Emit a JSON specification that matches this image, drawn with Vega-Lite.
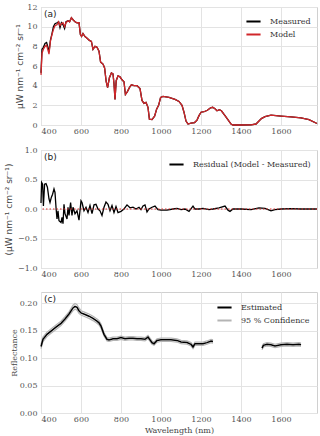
{
  "$schema": "https://vega.github.io/schema/vega-lite/v6.json",
  "padding": {"left": 3, "top": 2, "right": 2, "bottom": 0},
  "background": "white",
  "spacing": 12,
  "config": {
    "view": {"stroke": "#d0d0d0", "strokeWidth": 1},
    "axis": {
      "grid": true, "gridColor": "#e3e3e3", "gridWidth": 1, "domain": false, "ticks": false, "tickSize": 0,
      "labelFont": "DejaVu Serif", "labelFontSize": 8, "labelColor": "#555555", "labelPadding": 4,
      "titleFont": "DejaVu Serif", "titleFontSize": 8, "titleColor": "#444444", "titleFontWeight": "normal"
    },
    "axisX": {"labelPadding": 2, "format": "d"},
    "legend": {
      "labelFont": "DejaVu Serif", "labelFontSize": 8, "labelColor": "#333333",
      "symbolType": "stroke", "symbolStrokeWidth": 2, "symbolSize": 200, "title": null, "rowPadding": 0, "labelOffset": 8, "padding": 0
    }
  },
  "datasets": {
    "spec": [
      {"wl": 400, "Measured": 5.3, "Model": 5.1},
      {"wl": 405, "Measured": 7.7, "Model": 7.3},
      {"wl": 412, "Measured": 7.9, "Model": 7.7},
      {"wl": 420, "Measured": 8.3, "Model": 8.0},
      {"wl": 428, "Measured": 8.4, "Model": 8.1},
      {"wl": 435, "Measured": 7.9, "Model": 7.6},
      {"wl": 440, "Measured": 7.4, "Model": 7.2},
      {"wl": 447, "Measured": 8.6, "Model": 8.5},
      {"wl": 455, "Measured": 9.3, "Model": 9.2},
      {"wl": 462, "Measured": 10.0, "Model": 9.7},
      {"wl": 470, "Measured": 10.3, "Model": 10.1},
      {"wl": 480, "Measured": 10.4, "Model": 10.2},
      {"wl": 488, "Measured": 10.5, "Model": 10.5},
      {"wl": 495, "Measured": 9.9, "Model": 10.1},
      {"wl": 502, "Measured": 10.4, "Model": 10.3},
      {"wl": 510, "Measured": 10.2, "Model": 10.4},
      {"wl": 518, "Measured": 9.8, "Model": 10.0},
      {"wl": 525, "Measured": 10.5, "Model": 10.4},
      {"wl": 535, "Measured": 10.6, "Model": 10.6},
      {"wl": 543, "Measured": 10.5, "Model": 10.5},
      {"wl": 552, "Measured": 10.9, "Model": 10.9},
      {"wl": 560, "Measured": 10.7, "Model": 10.7},
      {"wl": 570, "Measured": 10.5, "Model": 10.5},
      {"wl": 580, "Measured": 10.4, "Model": 10.4},
      {"wl": 590, "Measured": 10.4, "Model": 10.4},
      {"wl": 597, "Measured": 9.2, "Model": 9.2},
      {"wl": 603, "Measured": 9.0, "Model": 9.0},
      {"wl": 610, "Measured": 9.3, "Model": 9.3},
      {"wl": 620, "Measured": 9.0, "Model": 9.0},
      {"wl": 632, "Measured": 8.8, "Model": 8.8},
      {"wl": 642, "Measured": 8.6, "Model": 8.6},
      {"wl": 652, "Measured": 8.5, "Model": 8.5},
      {"wl": 660, "Measured": 7.7, "Model": 7.7},
      {"wl": 670, "Measured": 8.0, "Model": 8.0},
      {"wl": 680, "Measured": 7.9, "Model": 7.9},
      {"wl": 690, "Measured": 7.5, "Model": 7.5},
      {"wl": 698, "Measured": 6.4, "Model": 6.4},
      {"wl": 710, "Measured": 6.2, "Model": 6.2},
      {"wl": 718, "Measured": 5.8, "Model": 5.8},
      {"wl": 726, "Measured": 4.4, "Model": 4.4},
      {"wl": 733, "Measured": 3.8, "Model": 3.8},
      {"wl": 742, "Measured": 4.8, "Model": 4.8},
      {"wl": 752, "Measured": 5.3, "Model": 5.3},
      {"wl": 760, "Measured": 5.2, "Model": 5.2},
      {"wl": 765, "Measured": 4.2, "Model": 4.2},
      {"wl": 770, "Measured": 2.6, "Model": 2.6},
      {"wl": 776, "Measured": 4.5, "Model": 4.5},
      {"wl": 785, "Measured": 5.0, "Model": 5.0},
      {"wl": 795, "Measured": 4.9, "Model": 4.9},
      {"wl": 805, "Measured": 4.6, "Model": 4.6},
      {"wl": 815, "Measured": 4.4, "Model": 4.4},
      {"wl": 822, "Measured": 3.1, "Model": 3.1},
      {"wl": 832, "Measured": 3.4, "Model": 3.4},
      {"wl": 842, "Measured": 3.8, "Model": 3.8},
      {"wl": 852, "Measured": 4.1, "Model": 4.1},
      {"wl": 865, "Measured": 4.0, "Model": 4.0},
      {"wl": 880, "Measured": 4.0, "Model": 4.0},
      {"wl": 895, "Measured": 3.7, "Model": 3.7},
      {"wl": 905, "Measured": 2.5, "Model": 2.5},
      {"wl": 915, "Measured": 2.2, "Model": 2.2},
      {"wl": 925, "Measured": 2.3, "Model": 2.3},
      {"wl": 935, "Measured": 1.8, "Model": 1.8},
      {"wl": 942, "Measured": 0.6, "Model": 0.6},
      {"wl": 955, "Measured": 0.55, "Model": 0.55},
      {"wl": 968, "Measured": 0.9, "Model": 0.9},
      {"wl": 978, "Measured": 1.6, "Model": 1.6},
      {"wl": 988, "Measured": 2.0, "Model": 2.0},
      {"wl": 998, "Measured": 2.8, "Model": 2.8},
      {"wl": 1010, "Measured": 2.9, "Model": 2.9},
      {"wl": 1040, "Measured": 2.8, "Model": 2.8},
      {"wl": 1070, "Measured": 2.6, "Model": 2.6},
      {"wl": 1090, "Measured": 2.4, "Model": 2.4},
      {"wl": 1105, "Measured": 2.0, "Model": 2.0},
      {"wl": 1115, "Measured": 1.3, "Model": 1.3},
      {"wl": 1125, "Measured": 0.4, "Model": 0.4},
      {"wl": 1135, "Measured": 0.1, "Model": 0.1},
      {"wl": 1150, "Measured": 0.2, "Model": 0.2},
      {"wl": 1168, "Measured": 0.25, "Model": 0.25},
      {"wl": 1180, "Measured": 0.5, "Model": 0.5},
      {"wl": 1190, "Measured": 0.95, "Model": 0.95},
      {"wl": 1200, "Measured": 1.3, "Model": 1.3},
      {"wl": 1215, "Measured": 1.35, "Model": 1.35},
      {"wl": 1232, "Measured": 1.5, "Model": 1.5},
      {"wl": 1248, "Measured": 1.75, "Model": 1.75},
      {"wl": 1258, "Measured": 1.8, "Model": 1.8},
      {"wl": 1270, "Measured": 1.65, "Model": 1.65},
      {"wl": 1280, "Measured": 1.45, "Model": 1.45},
      {"wl": 1292, "Measured": 1.55, "Model": 1.55},
      {"wl": 1302, "Measured": 1.45, "Model": 1.45},
      {"wl": 1320, "Measured": 0.95, "Model": 0.95},
      {"wl": 1338, "Measured": 0.45, "Model": 0.45},
      {"wl": 1350, "Measured": 0.1, "Model": 0.1},
      {"wl": 1360, "Measured": 0.0, "Model": 0.0},
      {"wl": 1400, "Measured": 0.0, "Model": 0.0},
      {"wl": 1450, "Measured": 0.02, "Model": 0.02},
      {"wl": 1475, "Measured": 0.1, "Model": 0.1},
      {"wl": 1490, "Measured": 0.4, "Model": 0.4},
      {"wl": 1502, "Measured": 0.65, "Model": 0.65},
      {"wl": 1520, "Measured": 0.85, "Model": 0.85},
      {"wl": 1550, "Measured": 1.0, "Model": 1.0},
      {"wl": 1575, "Measured": 0.95, "Model": 0.95},
      {"wl": 1600, "Measured": 0.9, "Model": 0.9},
      {"wl": 1650, "Measured": 0.82, "Model": 0.82},
      {"wl": 1700, "Measured": 0.72, "Model": 0.72},
      {"wl": 1740, "Measured": 0.55, "Model": 0.55},
      {"wl": 1780, "Measured": 0.15, "Model": 0.15}
    ],
    "resid": [
      {"wl": 400, "r": 0.1}, {"wl": 403, "r": 0.45}, {"wl": 408, "r": 0.42}, {"wl": 412, "r": 0.05},
      {"wl": 418, "r": 0.42}, {"wl": 425, "r": 0.43}, {"wl": 432, "r": 0.37}, {"wl": 440, "r": 0.17},
      {"wl": 445, "r": 0.11}, {"wl": 452, "r": 0.2}, {"wl": 458, "r": 0.25}, {"wl": 465, "r": 0.34},
      {"wl": 470, "r": 0.28}, {"wl": 475, "r": 0.03}, {"wl": 480, "r": -0.17}, {"wl": 485, "r": -0.03},
      {"wl": 490, "r": -0.2}, {"wl": 500, "r": -0.23}, {"wl": 505, "r": -0.14}, {"wl": 510, "r": -0.25},
      {"wl": 515, "r": 0.08}, {"wl": 520, "r": -0.08}, {"wl": 530, "r": -0.17}, {"wl": 535, "r": 0.03},
      {"wl": 540, "r": -0.11}, {"wl": 548, "r": 0.11}, {"wl": 555, "r": -0.11}, {"wl": 560, "r": 0.03},
      {"wl": 570, "r": -0.08}, {"wl": 580, "r": -0.03}, {"wl": 590, "r": -0.19}, {"wl": 600, "r": 0.14},
      {"wl": 605, "r": 0.11}, {"wl": 615, "r": -0.03}, {"wl": 625, "r": 0.03}, {"wl": 635, "r": -0.06},
      {"wl": 645, "r": 0.06}, {"wl": 655, "r": -0.08}, {"wl": 665, "r": 0.07}, {"wl": 675, "r": 0.08},
      {"wl": 685, "r": 0.0}, {"wl": 695, "r": -0.03}, {"wl": 705, "r": -0.11}, {"wl": 715, "r": 0.03},
      {"wl": 725, "r": 0.12}, {"wl": 735, "r": 0.08}, {"wl": 745, "r": -0.03}, {"wl": 755, "r": 0.06},
      {"wl": 765, "r": -0.06}, {"wl": 775, "r": 0.04}, {"wl": 785, "r": -0.06}, {"wl": 800, "r": -0.04},
      {"wl": 815, "r": 0.0}, {"wl": 830, "r": 0.07}, {"wl": 845, "r": 0.02}, {"wl": 860, "r": 0.03},
      {"wl": 875, "r": 0.0}, {"wl": 890, "r": 0.03}, {"wl": 900, "r": -0.01}, {"wl": 910, "r": 0.05},
      {"wl": 920, "r": 0.07}, {"wl": 930, "r": -0.05}, {"wl": 940, "r": 0.0}, {"wl": 955, "r": 0.03},
      {"wl": 970, "r": 0.05}, {"wl": 985, "r": -0.01}, {"wl": 1000, "r": -0.02}, {"wl": 1030, "r": -0.02},
      {"wl": 1060, "r": 0.0}, {"wl": 1080, "r": 0.01}, {"wl": 1100, "r": -0.01}, {"wl": 1120, "r": 0.0},
      {"wl": 1140, "r": -0.04}, {"wl": 1160, "r": 0.05}, {"wl": 1170, "r": 0.0}, {"wl": 1190, "r": 0.0},
      {"wl": 1210, "r": 0.01}, {"wl": 1240, "r": -0.01}, {"wl": 1260, "r": 0.0}, {"wl": 1290, "r": 0.02},
      {"wl": 1320, "r": 0.05}, {"wl": 1335, "r": -0.02}, {"wl": 1345, "r": -0.04}, {"wl": 1360, "r": 0.0},
      {"wl": 1400, "r": 0.0}, {"wl": 1450, "r": -0.01}, {"wl": 1490, "r": 0.02}, {"wl": 1520, "r": 0.01},
      {"wl": 1550, "r": -0.03}, {"wl": 1570, "r": -0.01}, {"wl": 1600, "r": 0.0}, {"wl": 1650, "r": 0.005},
      {"wl": 1700, "r": 0.0}, {"wl": 1780, "r": 0.0}
    ],
    "refl": [
      {"wl": 400, "seg": 1, "est": 0.121, "lo": 0.117, "hi": 0.125},
      {"wl": 410, "seg": 1, "est": 0.134, "lo": 0.130, "hi": 0.138},
      {"wl": 430, "seg": 1, "est": 0.143, "lo": 0.139, "hi": 0.147},
      {"wl": 450, "seg": 1, "est": 0.149, "lo": 0.145, "hi": 0.153},
      {"wl": 475, "seg": 1, "est": 0.156, "lo": 0.152, "hi": 0.160},
      {"wl": 500, "seg": 1, "est": 0.163, "lo": 0.159, "hi": 0.167},
      {"wl": 520, "seg": 1, "est": 0.171, "lo": 0.167, "hi": 0.175},
      {"wl": 540, "seg": 1, "est": 0.180, "lo": 0.176, "hi": 0.184},
      {"wl": 560, "seg": 1, "est": 0.191, "lo": 0.186, "hi": 0.196},
      {"wl": 570, "seg": 1, "est": 0.194, "lo": 0.189, "hi": 0.199},
      {"wl": 580, "seg": 1, "est": 0.192, "lo": 0.187, "hi": 0.197},
      {"wl": 590, "seg": 1, "est": 0.186, "lo": 0.181, "hi": 0.191},
      {"wl": 600, "seg": 1, "est": 0.182, "lo": 0.178, "hi": 0.186},
      {"wl": 620, "seg": 1, "est": 0.179, "lo": 0.175, "hi": 0.183},
      {"wl": 640, "seg": 1, "est": 0.176, "lo": 0.172, "hi": 0.180},
      {"wl": 660, "seg": 1, "est": 0.172, "lo": 0.168, "hi": 0.176},
      {"wl": 680, "seg": 1, "est": 0.167, "lo": 0.163, "hi": 0.171},
      {"wl": 690, "seg": 1, "est": 0.164, "lo": 0.160, "hi": 0.168},
      {"wl": 700, "seg": 1, "est": 0.158, "lo": 0.154, "hi": 0.162},
      {"wl": 715, "seg": 1, "est": 0.143, "lo": 0.140, "hi": 0.146},
      {"wl": 730, "seg": 1, "est": 0.134, "lo": 0.131, "hi": 0.137},
      {"wl": 740, "seg": 1, "est": 0.133, "lo": 0.130, "hi": 0.136},
      {"wl": 760, "seg": 1, "est": 0.135, "lo": 0.132, "hi": 0.138},
      {"wl": 780, "seg": 1, "est": 0.135, "lo": 0.132, "hi": 0.138},
      {"wl": 800, "seg": 1, "est": 0.137, "lo": 0.134, "hi": 0.140},
      {"wl": 820, "seg": 1, "est": 0.135, "lo": 0.132, "hi": 0.138},
      {"wl": 840, "seg": 1, "est": 0.136, "lo": 0.133, "hi": 0.139},
      {"wl": 860, "seg": 1, "est": 0.136, "lo": 0.133, "hi": 0.139},
      {"wl": 880, "seg": 1, "est": 0.135, "lo": 0.132, "hi": 0.138},
      {"wl": 900, "seg": 1, "est": 0.135, "lo": 0.132, "hi": 0.138},
      {"wl": 920, "seg": 1, "est": 0.134, "lo": 0.131, "hi": 0.137},
      {"wl": 935, "seg": 1, "est": 0.138, "lo": 0.135, "hi": 0.141},
      {"wl": 945, "seg": 1, "est": 0.133, "lo": 0.130, "hi": 0.136},
      {"wl": 955, "seg": 1, "est": 0.128, "lo": 0.125, "hi": 0.131},
      {"wl": 965, "seg": 1, "est": 0.126, "lo": 0.123, "hi": 0.129},
      {"wl": 980, "seg": 1, "est": 0.132, "lo": 0.129, "hi": 0.135},
      {"wl": 1000, "seg": 1, "est": 0.133, "lo": 0.130, "hi": 0.136},
      {"wl": 1050, "seg": 1, "est": 0.133, "lo": 0.130, "hi": 0.136},
      {"wl": 1080, "seg": 1, "est": 0.132, "lo": 0.129, "hi": 0.135},
      {"wl": 1100, "seg": 1, "est": 0.129, "lo": 0.126, "hi": 0.132},
      {"wl": 1130, "seg": 1, "est": 0.128, "lo": 0.125, "hi": 0.131},
      {"wl": 1150, "seg": 1, "est": 0.125, "lo": 0.122, "hi": 0.128},
      {"wl": 1160, "seg": 1, "est": 0.120, "lo": 0.117, "hi": 0.123},
      {"wl": 1170, "seg": 1, "est": 0.126, "lo": 0.123, "hi": 0.129},
      {"wl": 1190, "seg": 1, "est": 0.126, "lo": 0.123, "hi": 0.129},
      {"wl": 1210, "seg": 1, "est": 0.126, "lo": 0.123, "hi": 0.129},
      {"wl": 1230, "seg": 1, "est": 0.128, "lo": 0.125, "hi": 0.131},
      {"wl": 1250, "seg": 1, "est": 0.131, "lo": 0.128, "hi": 0.134},
      {"wl": 1260, "seg": 1, "est": 0.130, "lo": 0.127, "hi": 0.133},
      {"wl": 1505, "seg": 2, "est": 0.118, "lo": 0.115, "hi": 0.121},
      {"wl": 1512, "seg": 2, "est": 0.123, "lo": 0.120, "hi": 0.126},
      {"wl": 1530, "seg": 2, "est": 0.125, "lo": 0.122, "hi": 0.128},
      {"wl": 1550, "seg": 2, "est": 0.124, "lo": 0.121, "hi": 0.127},
      {"wl": 1570, "seg": 2, "est": 0.122, "lo": 0.119, "hi": 0.125},
      {"wl": 1600, "seg": 2, "est": 0.124, "lo": 0.121, "hi": 0.127},
      {"wl": 1630, "seg": 2, "est": 0.125, "lo": 0.122, "hi": 0.128},
      {"wl": 1660, "seg": 2, "est": 0.124, "lo": 0.121, "hi": 0.127},
      {"wl": 1690, "seg": 2, "est": 0.125, "lo": 0.122, "hi": 0.128},
      {"wl": 1700, "seg": 2, "est": 0.124, "lo": 0.121, "hi": 0.127}
    ]
  },
  "vconcat": [
    {
      "spacing": 9,
      "vconcat": [
        {
          "width": 276, "height": 118,
          "layer": [
            {
              "data": {"name": "spec"},
              "transform": [{"fold": ["Measured", "Model"], "as": ["series", "val"]}],
              "mark": {"type": "line", "strokeWidth": 1.3},
              "encoding": {
                "x": {"field": "wl", "type": "quantitative", "scale": {"domain": [400, 1780], "nice": false}, "axis": {"values": [400, 600, 800, 1000, 1200, 1400, 1600], "title": null}},
                "y": {"field": "val", "type": "quantitative", "scale": {"domain": [0, 12], "nice": false}, "axis": {"values": [0, 2, 4, 6, 8, 10, 12], "title": "μW nm⁻¹ cm⁻² sr⁻¹", "titleFont": "DejaVu Sans", "titleFontSize": 9, "titlePadding": 3, "minExtent": 14, "maxExtent": 14}},
                "color": {"field": "series", "type": "nominal", "scale": {"domain": ["Measured", "Model"], "range": ["#000000", "#d0262a"]}, "legend": {"orient": "top-right", "offset": 6}}
              }
            },
            {
              "data": {"values": [{"t": "(a)"}]},
              "mark": {"type": "text", "font": "DejaVu Sans", "fontSize": 9, "color": "#222222", "align": "left", "baseline": "top", "dx": 3, "dy": 3},
              "encoding": {
                "x": {"datum": 400, "type": "quantitative", "axis": {"values": [400, 600, 800, 1000, 1200, 1400, 1600], "title": null}},
                "y": {"datum": 12, "type": "quantitative", "axis": {"values": [0, 2, 4, 6, 8, 10, 12], "title": "μW nm⁻¹ cm⁻² sr⁻¹", "titleFont": "DejaVu Sans", "titleFontSize": 9, "titlePadding": 3, "minExtent": 14, "maxExtent": 14}},
                "text": {"field": "t"}
              }
            }
          ]
        },
        {
          "width": 276, "height": 118,
          "layer": [
            {
              "data": {"name": "resid"},
              "transform": [{"fold": ["r"], "as": ["k", "rv"]}],
              "mark": {"type": "line", "strokeWidth": 1.3},
              "encoding": {
                "x": {"field": "wl", "type": "quantitative", "scale": {"domain": [400, 1780], "nice": false}, "axis": {"values": [400, 600, 800, 1000, 1200, 1400, 1600], "title": null}},
                "y": {"field": "rv", "type": "quantitative", "scale": {"domain": [-1, 1], "nice": false}, "axis": {"values": [-1, -0.5, 0, 0.5, 1], "format": ".1f", "title": "(μW nm⁻¹ cm⁻² sr⁻¹)", "titleFont": "DejaVu Sans", "titleFontSize": 9, "titlePadding": 5, "minExtent": 23, "maxExtent": 23}},
                "color": {"field": "k", "type": "nominal", "scale": {"domain": ["r"], "range": ["#000000"]}, "legend": {"orient": "top-right", "offset": 6, "labelExpr": "'Residual (Model - Measured)'"}}
              }
            },
            {
              "data": {"values": [{"z": 0}]},
              "mark": {"type": "rule", "color": "#e03030", "strokeDash": [1.5, 2], "strokeWidth": 1.2},
              "encoding": {"y": {"field": "z", "type": "quantitative", "axis": {"values": [-1, -0.5, 0, 0.5, 1], "format": ".1f", "title": "(μW nm⁻¹ cm⁻² sr⁻¹)", "titleFont": "DejaVu Sans", "titleFontSize": 9, "titlePadding": 5, "minExtent": 23, "maxExtent": 23}}}
            },
            {
              "data": {"values": [{"t": "(b)"}]},
              "mark": {"type": "text", "font": "DejaVu Sans", "fontSize": 9, "color": "#222222", "align": "left", "baseline": "top", "dx": 3, "dy": 3},
              "encoding": {
                "x": {"datum": 400, "type": "quantitative", "axis": {"values": [400, 600, 800, 1000, 1200, 1400, 1600], "title": null}},
                "y": {"datum": 1, "type": "quantitative", "axis": {"values": [-1, -0.5, 0, 0.5, 1], "format": ".1f", "title": "(μW nm⁻¹ cm⁻² sr⁻¹)", "titleFont": "DejaVu Sans", "titleFontSize": 9, "titlePadding": 5, "minExtent": 23, "maxExtent": 23}},
                "text": {"field": "t"}
              }
            }
          ]
        }
      ],
      "resolve": {"scale": {"color": "independent", "y": "independent"}, "legend": {"color": "independent"}}
    },
    {
      "width": 276, "height": 121,
      "layer": [
        {
          "data": {"name": "refl"},
          "transform": [{"fold": ["lo", "hi"], "as": ["b", "bv"]}],
          "mark": {"type": "line", "strokeWidth": 1.2, "color": "#b4b4b4"},
          "encoding": {
            "x": {"field": "wl", "type": "quantitative", "scale": {"domain": [400, 1780], "nice": false}, "axis": {"values": [400, 600, 800, 1000, 1200, 1400, 1600], "title": "Wavelength (nm)", "titlePadding": 3}},
            "y": {"field": "bv", "type": "quantitative", "scale": {"domain": [0, 0.22], "nice": false}, "axis": {"values": [0, 0.05, 0.1, 0.15, 0.2], "format": ".2f", "title": "Reflectance", "titlePadding": 1, "minExtent": 22, "maxExtent": 22}},
            "detail": [{"field": "seg"}, {"field": "b"}]
          }
        },
        {
          "data": {"name": "refl"},
          "transform": [{"fold": ["est"], "as": ["k", "ev"]}],
          "mark": {"type": "line", "strokeWidth": 1.5, "color": "#000000"},
          "encoding": {
            "x": {"field": "wl", "type": "quantitative", "axis": {"values": [400, 600, 800, 1000, 1200, 1400, 1600], "title": "Wavelength (nm)", "titlePadding": 3}},
            "y": {"field": "ev", "type": "quantitative", "axis": {"values": [0, 0.05, 0.1, 0.15, 0.2], "format": ".2f", "title": "Reflectance", "titlePadding": 1, "minExtent": 22, "maxExtent": 22}},
            "detail": {"field": "seg"}
          }
        },
        {
          "data": {"values": [{"s": "Estimated"}, {"s": "95 % Confidence"}]},
          "mark": {"type": "line", "opacity": 0},
          "encoding": {
            "color": {"field": "s", "type": "nominal", "scale": {"domain": ["Estimated", "95 % Confidence"], "range": ["#000000", "#b4b4b4"]}, "legend": {"orient": "top-right", "offset": 7, "symbolOpacity": 1}}
          }
        },
        {
          "data": {"values": [{"t": "(c)"}]},
          "mark": {"type": "text", "font": "DejaVu Sans", "fontSize": 9, "color": "#222222", "align": "left", "baseline": "top", "dx": 3, "dy": 3},
          "encoding": {
            "x": {"datum": 400, "type": "quantitative", "axis": {"values": [400, 600, 800, 1000, 1200, 1400, 1600], "title": "Wavelength (nm)", "titlePadding": 3}},
            "y": {"datum": 0.22, "type": "quantitative", "axis": {"values": [0, 0.05, 0.1, 0.15, 0.2], "format": ".2f", "title": "Reflectance", "titlePadding": 1, "minExtent": 22, "maxExtent": 22}},
            "text": {"field": "t"}
          }
        }
      ]
    }
  ],
  "resolve": {"scale": {"color": "independent", "y": "independent"}, "legend": {"color": "independent"}}
}
